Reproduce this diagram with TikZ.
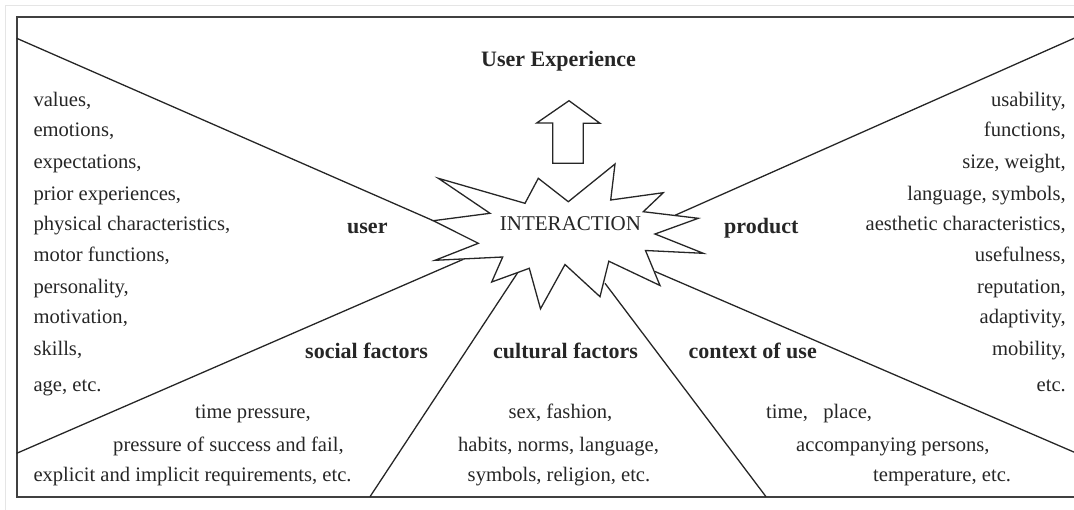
\documentclass[tikz,border=0pt]{standalone}
\usepackage{fontspec}
\setmainfont{Liberation Serif}
\begin{document}
\begin{tikzpicture}[x=1pt,y=-1pt,
  txt/.style={inner sep=0pt, font=\fontsize{20.6}{24}\selectfont, text=black!85},
  lbl/.style={inner sep=0pt, font=\fontsize{22}{26}\selectfont\bfseries, text=black!85},
  ln/.style={line width=1.3pt, draw=black!85, line join=miter}]
\useasboundingbox (0,0) rectangle (1074,509);
\clip (0,0) rectangle (1074,509);
% screenshot border and frame
\draw[black!10, line width=1pt] (5,520) -- (5,5) -- (1090,5);
\draw[black!75, line width=1.6pt] (16.7,16.7) rectangle (1100,496.7);
% connector end points
\coordinate (uL) at (16.7,38.3);
\coordinate (uR) at (433.3,220.7);
\coordinate (pL) at (675,215.3);
\coordinate (pR) at (1090,31.2);
\coordinate (sL) at (16.7,453.3);
\coordinate (sR) at (463.3,259.3);
\coordinate (cLb) at (370,496.7);
\coordinate (cLt) at (518.3,271.7);
\coordinate (cRt) at (605,283.3);
\coordinate (cRb) at (766,496.7);
\coordinate (xL) at (655,271.5);
\coordinate (xR) at (1090,459);
\draw[ln] (uL) -- (uR);
\draw[ln] (pL) -- (pR);
\draw[ln] (sL) -- (sR);
\draw[ln] (cLb) -- (cLt);
\draw[ln] (cRt) -- (cRb);
\draw[ln] (xL) -- (xR);
% starburst
\draw[ln, fill=white] (438.3,178.3) -- (525,203.3) -- (538.3,178.3) -- (568.3,201.7) -- (615,164) -- (610.7,200) -- (663.3,192.7) -- (643.3,211.7) -- (698.3,218.3) -- (655,234) -- (703.3,253.3) -- (645.5,250.5) -- (660,285.5) -- (608.8,261.2) -- (600,296.7) -- (565,264.5) -- (540.5,308.8) -- (529.3,268.3) -- (491.7,282) -- (502.7,257) -- (435,260.3) -- (478.3,243.3) -- (433.3,220.7) -- (490,213.3) -- cycle;
\node[txt, anchor=base, font=\fontsize{21}{24}\selectfont] (inter) at (570.5,230) {INTERACTION};
% arrow
\draw[ln] (569,100.7) -- (600,123.3) -- (583.3,123.3) -- (583.3,163.3) -- (552.7,163.3) -- (552.7,123) -- (536.7,123) -- cycle;
% labels
\node[lbl, anchor=base] (ux) at (558.5,66.7) {User Experience};
\node[lbl, anchor=base west] (user) at (347,233) {user};
\node[lbl, anchor=base west] (prod) at (724,233) {product};
\node[lbl, anchor=base west] (soc) at (305,358) {social factors};
\node[lbl, anchor=base west] (cul) at (493,358) {cultural factors};
\node[lbl, anchor=base east] (ctx) at (817,358) {context of use};
% left list
\node[txt, anchor=base west] (l1) at (33.3,106.7) {values,};
\node[txt, anchor=base west] (l2) at (33.3,136.7) {emotions,};
\node[txt, anchor=base west] (l3) at (33.3,168.3) {expectations,};
\node[txt, anchor=base west] (l4) at (33.3,200) {prior experiences,};
\node[txt, anchor=base west] (l5) at (33.3,230) {physical characteristics,};
\node[txt, anchor=base west] (l6) at (33.3,261.7) {motor functions,};
\node[txt, anchor=base west] (l7) at (33.3,293) {personality,};
\node[txt, anchor=base west] (l8) at (33.3,323) {motivation,};
\node[txt, anchor=base west] (l9) at (33.3,355) {skills,};
\node[txt, anchor=base west] (l10) at (33.3,391.7) {age, etc.};
% right list
\node[txt, anchor=base east] (r1) at (1066,106.7) {usability,};
\node[txt, anchor=base east] (r2) at (1066,136.7) {functions,};
\node[txt, anchor=base east] (r3) at (1066,168.3) {size, weight,};
\node[txt, anchor=base east] (r4) at (1066,200) {language, symbols,};
\node[txt, anchor=base east] (r5) at (1066,230) {aesthetic characteristics,};
\node[txt, anchor=base east] (r6) at (1066,261.7) {usefulness,};
\node[txt, anchor=base east] (r7) at (1066,293) {reputation,};
\node[txt, anchor=base east] (r8) at (1066,323) {adaptivity,};
\node[txt, anchor=base east] (r9) at (1066,355) {mobility,};
\node[txt, anchor=base east] (r10) at (1066,391.7) {etc.};
% social
\node[txt, anchor=base west] (s1) at (195,418) {time pressure,};
\node[txt, anchor=base west] (s2) at (113,451.7) {pressure of success and fail,};
\node[txt, anchor=base west] (s3) at (33.3,481.7) {explicit and implicit requirements, etc.};
% cultural
\node[txt, anchor=base] (c1) at (560.5,418) {sex, fashion,};
\node[txt, anchor=base] (c2) at (558.5,451.7) {habits, norms, language,};
\node[txt, anchor=base] (c3) at (559,481.7) {symbols, religion, etc.};
% context
\node[txt, anchor=base west] (x1) at (766,418) {time,\ \ \ place,};
\node[txt, anchor=base west] (x2) at (796,451.7) {accompanying persons,};
\node[txt, anchor=base west] (x3) at (873,481.7) {temperature, etc.};
\end{tikzpicture}
\end{document}
